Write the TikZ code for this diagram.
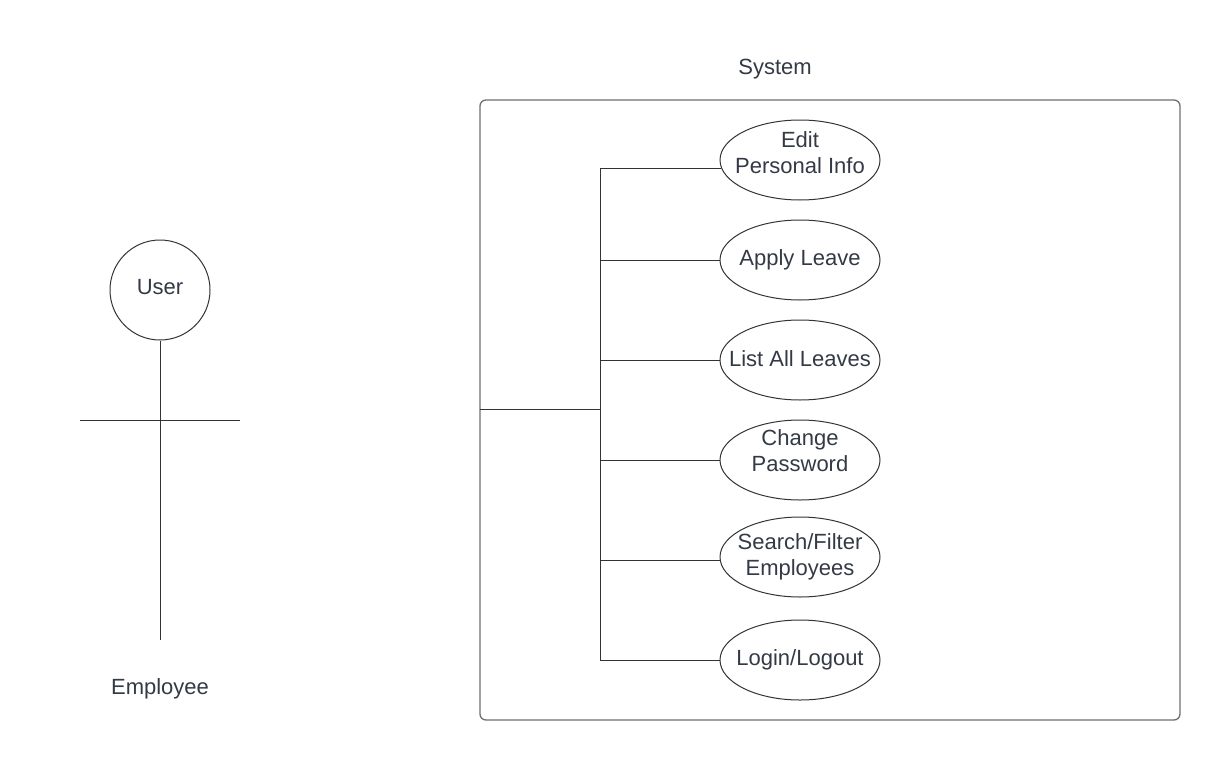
\documentclass[tikz,border=0pt]{standalone}
\usepackage{fontspec}
\setmainfont{Liberation Sans}
\usetikzlibrary{shapes.geometric}
\definecolor{txt}{HTML}{333A45}
\definecolor{ln}{HTML}{333333}
\definecolor{frame}{HTML}{6E6E6E}
\tikzset{
  usecase/.style={ellipse, draw=ln, line width=0.75pt, minimum width=120pt, minimum height=60pt, inner sep=0pt},
  uctext/.style={align=center, text=txt, inner sep=0pt, font=\fontsize{16.5}{19.5}\selectfont},
  actorhead/.style={circle, draw=ln, line width=0.75pt, minimum size=75pt, inner sep=0pt},
  label/.style={text=txt, font=\fontsize{16.5}{19.5}\selectfont, inner sep=0pt},
  wire/.style={draw=ln, line width=0.75pt},
}
\begin{document}
\begin{tikzpicture}[x=0.75pt, y=-0.75pt]
\useasboundingbox (0,0) rectangle (1220,760);
% actor
\node[actorhead] (head) at (160,290) {};
\node[label] (headtext) at (160,287) {User};
\coordinate (feet) at (160,640);
\coordinate (armL) at (80,420);
\coordinate (armR) at (240,420);
\draw[wire] (head.south) -- (feet);
\draw[wire] (armL) -- (armR);
\node[label] (emp) at (160,689) {Employee};
% system
\node[label] (syslabel) at (775,69.5) {System};
\draw[draw=frame, line width=1pt, rounded corners=4.5pt] (480,100) rectangle (1180,720);
% use cases
\node[usecase] (e1) at (800,160) {};
\node[usecase] (e2) at (800,260) {};
\node[usecase] (e3) at (800,360) {};
\node[usecase] (e4) at (800,460) {};
\node[usecase] (e5) at (800,557) {};
\node[usecase] (e6) at (800,660) {};
\node[uctext] (t1) at (800,153) {Edit\\Personal Info};
\node[uctext] (t2) at (800,259.5) {Apply Leave};
\node[uctext] (t3) at (800,358.5) {List All Leaves};
\node[uctext] (t4) at (800,450.5) {Change\\Password};
\node[uctext] (t5) at (800,557) {Search/Filter\\Employees};
\node[uctext] (t6) at (800,659.5) {Login/Logout};
% bus
\coordinate (sysL) at (480,409);
\coordinate (busM) at (600,409);
\coordinate (busT) at (600,168);
\coordinate (busB) at (600,660);
\draw[wire] (sysL) -- (busM);
\draw[wire] (busT) -- (busB);
\draw[wire] (busT) -- ([xshift=1.2pt]e1.west |- busT);
\draw[wire] (600,260) -- (e2.west);
\draw[wire] (600,360) -- (e3.west);
\draw[wire] (600,460) -- (e4.west);
\draw[wire] (600,560) -- (e5.west |- 0,560);
\draw[wire] (busB) -- (e6.west);
\end{tikzpicture}
\end{document}
